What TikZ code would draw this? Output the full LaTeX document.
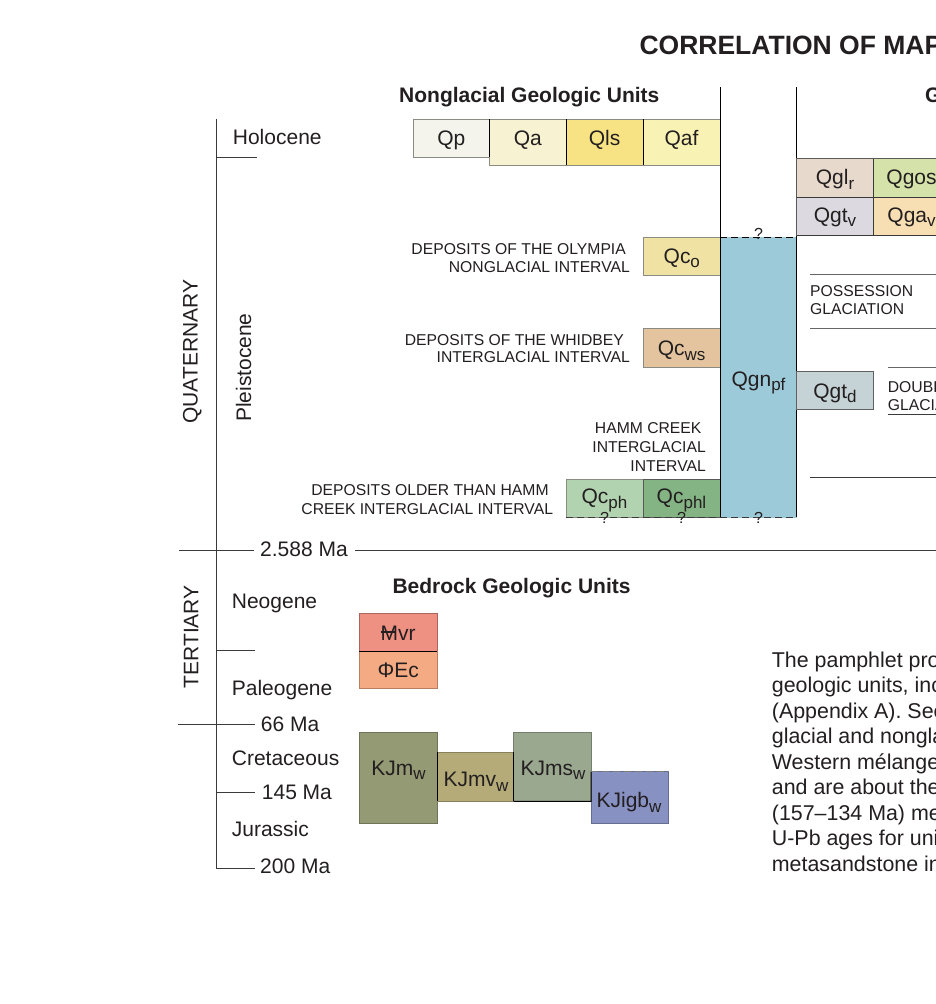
\documentclass[tikz,border=0pt]{standalone}
\usepackage{fontspec}
\setmainfont{Liberation Sans}
\definecolor{txt}{HTML}{231F20}
\definecolor{edge}{HTML}{8C8B82}
\definecolor{ln}{HTML}{3A3A3A}
\definecolor{cQp}{HTML}{F4F4EC}
\definecolor{cQa}{HTML}{F7F2D1}
\definecolor{cQls}{HTML}{F8E384}
\definecolor{cQaf}{HTML}{F8F3B4}
\definecolor{cQglr}{HTML}{E7D9CC}
\definecolor{cQgos}{HTML}{D5E3AA}
\definecolor{cQgtv}{HTML}{DCDAE0}
\definecolor{cQgav}{HTML}{F8DFB3}
\definecolor{cQgn}{HTML}{9DCAD9}
\definecolor{cQco}{HTML}{EFE2A2}
\definecolor{cQcws}{HTML}{E3C49E}
\definecolor{cQcph}{HTML}{B1D3AF}
\definecolor{cQcphl}{HTML}{84B384}
\definecolor{cQgtd}{HTML}{C6D3D6}
\definecolor{cMvr}{HTML}{EE9182}
\definecolor{cPEc}{HTML}{F4AB83}
\definecolor{cKJm}{HTML}{949A74}
\definecolor{cKJmv}{HTML}{B4AB78}
\definecolor{cKJms}{HTML}{9AA890}
\definecolor{cKJigb}{HTML}{8791C2}
\newcommand\subtx[1]{\raisebox{-0.22em}{\fontsize{17}{17}\selectfont #1}}
\newcommand\barM{\makebox[0pt][l]{\rule[0.34em]{0.68em}{0.07em}}M}
\newcommand\unitbox[7]{%
  \node[ubox, fill=#6, draw=#7, minimum width={(#4)-(#2)}, minimum height={(#5)-(#3)}]
    (#1) at ({((#2)+(#4))/2},{((#3)+(#5))/2}) {};}
\begin{document}
\begin{tikzpicture}[x=1pt,y=-1pt,
  ubox/.style={inner sep=0pt, outer sep=0pt, line width=0.7pt},
  lbl/.style={inner sep=0pt, anchor=base, text=txt, font=\fontsize{21}{25}\selectfont},
  lblw/.style={lbl, anchor=base west},
  para/.style={lblw, font=\fontsize{21.4}{25}\selectfont},
  sml/.style={inner sep=0pt, text=txt, font=\fontsize{15.7}{18}\selectfont},
  hdr/.style={inner sep=0pt, anchor=base west, text=txt, font=\fontsize{21}{25}\selectfont\bfseries},
  tl/.style={draw=ln, line width=0.8pt},
  blk/.style={draw=black, line width=1pt},
  grl/.style={draw=gray!80!black, line width=0.9pt},
  qm/.style={inner sep=0pt, anchor=base, text=txt, font=\fontsize{16}{16}\selectfont}]
\clip (0,0) rectangle (936,1004);
\fill[white] (0,0) rectangle (936,1004);

% ---------- titles ----------
\node[inner sep=0pt, anchor=base west, text=txt, font=\fontsize{26.5}{30}\selectfont\bfseries] (title) at (639.3,54.3) {CORRELATION OF MAP UNITS};
\node[hdr] (hnon) at (399,102) {Nonglacial Geologic Units};
\node[hdr] (hgla) at (925,102) {Glacial Geologic Units};
\node[hdr] (hbed) at (392.3,593.3) {Bedrock Geologic Units};

% ---------- time scale ----------
\draw[tl] (216.7,119.3) -- (216.7,868.3) -- (255,868.3);
\draw[tl] (216.7,157.7) -- (256.7,157.7);
\draw[tl] (179.3,550.6) -- (254,550.6);
\draw[tl] (355,550.6) -- (940,550.6);
\draw[tl] (216.7,650.7) -- (255,650.7);
\draw[tl] (178.3,724.3) -- (255,724.3);
\draw[tl] (216.7,792.3) -- (255,792.3);

\node[lblw] (holo) at (232.7,144) {Holocene};
\node[lbl, rotate=90] (quat) at (197.7,351.7) {QUATERNARY};
\node[lbl, rotate=90] (pleis) at (251,367.7) {Pleistocene};
\node[lblw] (m2588) at (260,556) {2.588 Ma};
\node[lbl, rotate=90] (tert) at (198.3,636.8) {TERTIARY};
\node[lblw] (neo) at (231.7,608.3) {Neogene};
\node[lblw] (paleo) at (231.7,695) {Paleogene};
\node[lblw] (m66) at (260.7,731.7) {66 Ma};
\node[lblw] (cret) at (231.7,765) {Cretaceous};
\node[lblw] (m145) at (261.7,799.3) {145 Ma};
\node[lblw] (jura) at (231.7,836.7) {Jurassic};
\node[lblw] (m200) at (260,873.3) {200 Ma};

% ---------- nonglacial units ----------
\unitbox{qp}{413}{119.3}{489.7}{157.3}{cQp}{edge}
\unitbox{qa}{489.7}{119.3}{566}{165.3}{cQa}{edge}
\unitbox{qls}{566}{119.3}{643}{165.3}{cQls}{edge}
\unitbox{qaf}{643}{119.3}{720}{165.3}{cQaf}{edge}
\draw[blk] (489.7,119.3) -- (489.7,157.3);
\draw[blk] (566,119.3) -- (566,165.3);
\draw[blk] (643,119.3) -- (643,165.3);
\node[lbl] (tqp) at (451.3,145.3) {Qp};
\node[lbl] (tqa) at (527.8,145.3) {Qa};
\node[lbl] (tqls) at (604.5,145.3) {Qls};
\node[lbl] (tqaf) at (681.5,145.3) {Qaf};

\unitbox{qco}{643.5}{237}{720}{275}{cQco}{edge}
\unitbox{qcws}{643.5}{328.7}{720}{367}{cQcws}{edge}
\unitbox{qcph}{566}{479}{643}{517.3}{cQcph}{edge}
\unitbox{qcphl}{643}{479}{720}{517.3}{cQcphl}{gray!70!black}
\node[lbl] (tqco) at (681.8,263.3) {Qc\subtx{o}};
\node[lbl] (tqcws) at (681.6,355.5) {Qc\subtx{ws}};
\node[lbl] (tqcph) at (604.5,503.5) {Qc\subtx{ph}};
\node[lbl] (tqcphl) at (681.5,503.5) {Qc\subtx{phl}};

% ---------- Qgn column ----------
\unitbox{qgn}{720}{237}{796.7}{517.3}{cQgn}{cQgn}
\draw[blk] (720,87.3) -- (720,517.3);
\draw[blk] (796.7,87.3) -- (796.7,517.3);
\draw[blk, dashed, dash pattern=on 7pt off 4pt] (qgn.north west) -- (qgn.north east);
\draw[draw=ln, line width=0.9pt, dash pattern=on 7pt off 4pt] (qcph.south west) -- (qgn.south east);
\node[lbl] (tqgn) at (758.5,386) {Qgn\subtx{pf}};
\node[qm] (q1) at (758.5,239.3) {?};
\node[qm] (q2) at (604.5,523) {?};
\node[qm] (q3) at (681.5,523) {?};
\node[qm] (q4) at (758.5,523) {?};

% ---------- glacial units ----------
\unitbox{qglr}{796.7}{158.7}{873.3}{197.3}{cQglr}{gray!70!black}
\unitbox{qgos}{873.3}{158.7}{960}{197.3}{cQgos}{gray!70!black}
\unitbox{qgtv}{796.7}{197.3}{873.3}{235}{cQgtv}{gray!70!black}
\unitbox{qgav}{873.3}{197.3}{960}{235}{cQgav}{gray!70!black}
\draw[draw=ln, line width=0.9pt] (qglr.north east) -- (qgtv.south east);
\draw[draw=ln, line width=0.9pt] (qgtv.north west) -- (qgav.north east);
\draw[draw=ln, line width=0.9pt] (qgtv.south west) -- (qgav.south east);
\node[lbl] (tqglr) at (835,184.5) {Qgl\subtx{r}};
\node[lbl] (tqgos) at (911.5,184.5) {Qgos};
\node[lbl] (tqgtv) at (835,222) {Qgt\subtx{v}};
\node[lbl] (tqgav) at (911.5,222) {Qga\subtx{v}};

\unitbox{qgtd}{796.7}{371.7}{873.3}{409.3}{cQgtd}{gray!75!black}
\node[lbl] (tqgtd) at (835,398) {Qgt\subtx{d}};

\draw[grl] (810,274) -- (940,274);
\draw[grl] (810,328.3) -- (940,328.3);
\draw[grl] (887.7,367.3) -- (940,367.3);
\draw[draw=ln, line width=0.9pt] (887.7,414) -- (940,414);
\draw[draw=ln, line width=0.9pt] (810,477.3) -- (940,477.3);
\node[sml, anchor=base west] (poss1) at (810,296) {POSSESSION};
\node[sml, anchor=base west] (poss2) at (810,314.3) {GLACIATION};
\node[sml, anchor=base west] (db1) at (887.7,392.7) {DOUBLE BLUFF};
\node[sml, anchor=base west] (db2) at (887.7,410.5) {GLACIATION};

% ---------- interval labels ----------
\node[sml, anchor=base east] (oly1) at (626,254.3) {DEPOSITS OF THE OLYMPIA};
\node[sml, anchor=base east] (oly2) at (630,272.7) {NONGLACIAL INTERVAL};
\node[sml, anchor=base east] (whi1) at (624,345) {DEPOSITS OF THE WHIDBEY};
\node[sml, anchor=base east] (whi2) at (630,362.7) {INTERGLACIAL INTERVAL};
\node[sml, anchor=base east] (ham1) at (701.6,433.8) {HAMM CREEK};
\node[sml, anchor=base east] (ham2) at (706,452.4) {INTERGLACIAL};
\node[sml, anchor=base east] (ham3) at (706,471.7) {INTERVAL};
\node[sml, anchor=base east] (old1) at (548.8,495.7) {DEPOSITS OLDER THAN HAMM};
\node[sml, anchor=base east] (old2) at (553.2,514.3) {CREEK INTERGLACIAL INTERVAL};

% ---------- bedrock units ----------
\unitbox{mvr}{359.3}{613.3}{437}{651.7}{cMvr}{cMvr!70!black}
\unitbox{pec}{359.3}{651.7}{437}{688.7}{cPEc}{cPEc!75!black}
\draw[blk] (mvr.south west) -- (mvr.south east);
\node[lbl] (tmvr) at (398.2,640) {\barM vr};
\node[lbl] (tpec) at (398.2,677.5) {ΦEc};

\unitbox{kjm}{359.3}{732}{437}{823}{cKJm}{cKJm!75!black}
\unitbox{kjmv}{437}{752.3}{513.7}{801.3}{cKJmv}{cKJmv!75!black}
\unitbox{kjms}{513.7}{732}{591}{801.3}{cKJms}{cKJms!75!black}
\unitbox{kjigb}{591}{771.3}{668.3}{823}{cKJigb}{cKJigb!75!black}
\draw[blk] (kjmv.north west) -- (kjmv.south west);
\draw[blk] (kjmv.north east) -- (kjmv.south east);
\draw[blk] (kjms.south west) -- (kjms.south east) -- (kjigb.north west);
\draw[draw=gray, line width=0.9pt, dash pattern=on 7pt off 4pt] (kjigb.north west) -- (kjigb.north east);
\node[lbl] (tkjm) at (398.5,775) {KJm\subtx{w}};
\node[lbl] (tkjmv) at (476,786.7) {KJmv\subtx{w}};
\node[lbl] (tkjms) at (553,775) {KJms\subtx{w}};
\node[lbl] (tkjigb) at (629,807.7) {KJigb\subtx{w}};

% ---------- text block ----------
\node[para] (p1) at (771.7,667) {The pamphlet provides};
\node[para] (p2) at (771.7,692.5) {geologic units, including};
\node[para] (p3) at (771.7,718) {(Appendix A). See};
\node[para] (p4) at (771.7,743.5) {glacial and nonglacial};
\node[para] (p5) at (771.7,769) {Western mélange};
\node[para] (p6) at (771.7,794.5) {and are about the};
\node[para] (p7) at (771.7,820) {(157–134 Ma) metamorphic};
\node[para] (p8) at (771.7,845.5) {U-Pb ages for units};
\node[para] (p9) at (771.7,871) {metasandstone in};
\end{tikzpicture}
\end{document}
